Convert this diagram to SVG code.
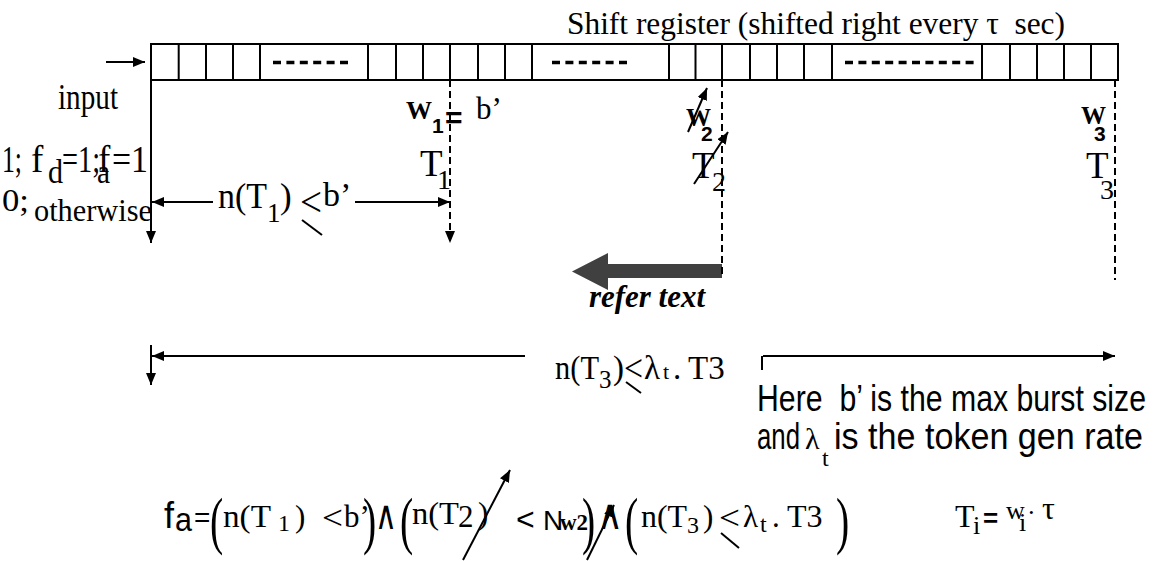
<svg xmlns="http://www.w3.org/2000/svg" width="1157" height="561" viewBox="0 0 1157 561">
<style>
.s{font-family:"Liberation Serif","Times New Roman",serif;fill:#000}
.a{font-family:"Liberation Sans",Arial,sans-serif;fill:#000}
.dj{font-family:"DejaVu Sans",sans-serif;fill:#000}
.ln{stroke:#000;stroke-width:2;fill:none}
.dl{stroke:#000;stroke-width:2;fill:none;stroke-dasharray:7 4}
.dots{stroke:#000;stroke-width:3.5;stroke-dasharray:8 5.4;fill:none}
.pre{white-space:pre}
</style>
<defs>
<marker id="ah" viewBox="0 0 12 10" refX="12" refY="5" markerWidth="12" markerHeight="10" markerUnits="userSpaceOnUse" orient="auto">
<path d="M0,0 L12,5 L0,10 Z" fill="#000"/>
</marker>
</defs>
<rect width="1157" height="561" fill="#fff"/>

<g id="title">
<text class="s pre" xml:space="preserve" x="567" y="34" font-size="31" textLength="498" lengthAdjust="spacingAndGlyphs">Shift register (shifted right every τ  sec)</text>
</g>

<g id="register">
<rect x="151" y="44" width="967" height="36" class="ln"/>
<path class="ln" d="M178.7,44V80M206,44V80M233,44V80M260,44V80M368,44V80M396,44V80M423,44V80M450,44V80M478,44V80M505,44V80M532,44V80M669,44V80M695.5,44V80M722,44V80M750,44V80M777,44V80M804,44V80M832,44V80M982,44V80M1010,44V80M1037,44V80M1064,44V80M1091,44V80"/>
<path class="dots" d="M273,62.5H348M552,62.5H627M845,62.5H976"/>
</g>

<g id="input">
<text class="s" x="58" y="109" font-size="35" textLength="60" lengthAdjust="spacingAndGlyphs">input</text>
</g>

<g id="cond">
<text class="s" x="2" y="172" font-size="37" textLength="20" lengthAdjust="spacingAndGlyphs">1;</text>
<text class="s" x="31" y="172" font-size="37">f</text>
<text class="s" x="48" y="183" font-size="33" textLength="15" lengthAdjust="spacingAndGlyphs">d</text>
<text class="s" x="62" y="172" font-size="37" textLength="38" lengthAdjust="spacingAndGlyphs">=1;</text>
<text class="s" x="98" y="172" font-size="37">f</text>
<text class="s" x="97" y="183" font-size="33" textLength="13" lengthAdjust="spacingAndGlyphs">a</text>
<text class="s" x="112" y="172" font-size="37" textLength="36" lengthAdjust="spacingAndGlyphs">=1</text>
<text class="s" x="2" y="211" font-size="31" textLength="27" lengthAdjust="spacingAndGlyphs">0;</text>
<text class="s" x="34" y="221" font-size="32" textLength="118" lengthAdjust="spacingAndGlyphs">otherwise</text>
</g>

<g id="w1">
<text class="s" x="406" y="119" font-size="26" font-weight="bold" textLength="26" lengthAdjust="spacingAndGlyphs">W</text>
<text class="a" x="432" y="133" font-size="21" font-weight="bold">1</text>
<text class="a" x="445" y="128" font-size="30" font-weight="bold">=</text>
<text class="s" x="476" y="119" font-size="31">b’</text>
<text class="s" x="420" y="176" font-size="37">T</text>
<text class="s" x="437" y="189" font-size="28">1</text>
</g>

<g id="w2">
<text class="s" x="686" y="126" font-size="26" font-weight="bold" textLength="25" lengthAdjust="spacingAndGlyphs">W</text>
<text class="a" x="701" y="141" font-size="21" font-weight="bold">2</text>
<text class="s" x="692" y="178" font-size="37">T</text>
<text class="s" x="712" y="191" font-size="28">2</text>
</g>

<g id="w3">
<text class="s" x="1081" y="124" font-size="26" font-weight="bold" textLength="25" lengthAdjust="spacingAndGlyphs">W</text>
<text class="a" x="1094" y="141" font-size="21" font-weight="bold">3</text>
<text class="s" x="1086" y="178" font-size="37">T</text>
<text class="s" x="1100" y="199" font-size="28">3</text>
</g>

<g id="refer">
<polygon points="722,264 608,264 608,253 572,271.5 608,290 608,278 722,278" fill="#404040"/>
<text class="s" x="589" y="307" font-size="31" font-weight="bold" font-style="italic" textLength="116" lengthAdjust="spacingAndGlyphs">refer text</text>
</g>

<g id="n1">
<text class="s" x="218" y="208" font-size="35" textLength="49" lengthAdjust="spacingAndGlyphs">n(T</text>
<text class="s" x="267" y="222" font-size="27">1</text>
<text class="s" x="280" y="208" font-size="35">)</text>
<text class="s" x="300" y="216" font-size="42" textLength="22" lengthAdjust="spacingAndGlyphs">&lt;</text>
<text class="s" x="323" y="206" font-size="34">b’</text>
</g>

<g id="n3">
<text class="s" x="555" y="379" font-size="33" textLength="44" lengthAdjust="spacingAndGlyphs">n(T</text>
<text class="s" x="599" y="388" font-size="25">3</text>
<text class="s" x="613" y="379" font-size="33">)</text>
<text class="s" x="624" y="381" font-size="38" textLength="19" lengthAdjust="spacingAndGlyphs">&lt;</text>
<text class="s" x="644" y="379" font-size="33">λ</text>
<text class="s" x="663" y="379" font-size="22">t</text>
<text class="s" x="673" y="379" font-size="33">.</text>
<text class="s" x="688" y="379" font-size="33">T3</text>
</g>

<g id="note">
<text class="a pre" xml:space="preserve" transform="translate(757,411) scale(1,1.2)" x="0" y="0" font-size="30" textLength="389" lengthAdjust="spacingAndGlyphs">Here  b’ is the max burst size</text>
<text class="a" transform="translate(757,449) scale(1,1.2)" x="0" y="0" font-size="30" textLength="43" lengthAdjust="spacingAndGlyphs">and</text>
<text class="s" x="805" y="449" font-size="30">λ</text>
<text class="s" x="822" y="466" font-size="24">t</text>
<text class="a" transform="translate(834,449) scale(1,1.2)" x="0" y="0" font-size="30" textLength="309" lengthAdjust="spacingAndGlyphs">is the token gen rate</text>
</g>

<g id="formula">
<text class="a" x="164" y="528" font-size="36">f</text>
<text class="a" x="175" y="531" font-size="34" textLength="17" lengthAdjust="spacingAndGlyphs">a</text>
<text class="a" x="194" y="527" font-size="28">=</text>
<text class="s" transform="translate(210,542) scale(0.62,1)" font-size="64">(</text>
<text class="s" x="223" y="527" font-size="31" textLength="48" lengthAdjust="spacingAndGlyphs">n(T</text>
<text class="s" x="278" y="531" font-size="24">1</text>
<text class="s" x="295" y="527" font-size="31">)</text>
<text class="s" x="322" y="529" font-size="34" textLength="21" lengthAdjust="spacingAndGlyphs">&lt;</text>
<text class="s" x="344" y="527" font-size="31">b’</text>
<text class="s" transform="translate(363,542) scale(0.62,1)" font-size="64">)</text>
<text class="dj" x="375" y="529" font-size="40" textLength="22" lengthAdjust="spacingAndGlyphs">∧</text>
<text class="s" transform="translate(400,542) scale(0.62,1)" font-size="64">(</text>
<text class="s" x="412" y="524" font-size="31" textLength="47" lengthAdjust="spacingAndGlyphs">n(T</text>
<text class="s" x="458" y="527" font-size="31">2</text>
<text class="s" x="478" y="524" font-size="31">)</text>
<text class="a" x="516" y="530" font-size="32">&lt;</text>
<text class="a" x="543" y="530" font-size="28">N</text>
<text class="s" x="560" y="530" font-size="23" font-weight="bold">w2</text>
<text class="s" transform="translate(582,542) scale(0.62,1)" font-size="64">)</text>
<text class="dj" x="597" y="529" font-size="42" textLength="26" lengthAdjust="spacingAndGlyphs">∧</text>
<text class="s" transform="translate(625,542) scale(0.62,1)" font-size="64">(</text>
<text class="s" x="641" y="527" font-size="31" textLength="46" lengthAdjust="spacingAndGlyphs">n(T</text>
<text class="s" x="687" y="533" font-size="24">3</text>
<text class="s" x="703" y="527" font-size="31">)</text>
<text class="s" x="719" y="529" font-size="34" textLength="21" lengthAdjust="spacingAndGlyphs">&lt;</text>
<text class="s" x="743" y="527" font-size="31">λ</text>
<text class="s" x="760" y="532" font-size="24">t</text>
<text class="s" x="772" y="527" font-size="31">.</text>
<text class="s" x="787" y="527" font-size="32">T3</text>
<text class="s" transform="translate(836,542) scale(0.62,1)" font-size="64">)</text>
</g>

<g id="ti">
<text class="s" x="955" y="527" font-size="32">T</text>
<text class="s" x="973" y="534" font-size="26">i</text>
<text class="a" x="983" y="527" font-size="26" font-weight="bold">=</text>
<text class="s" x="1006" y="519" font-size="26">w</text>
<text class="s" x="1019" y="531" font-size="26">i</text>
<text class="s" x="1027" y="521" font-size="26">·</text>
<text class="s" x="1042" y="519" font-size="32">τ</text>
</g>

<g id="connectors">
<line class="ln" x1="106" y1="62" x2="145" y2="62" marker-end="url(#ah)"/>
<line class="ln" x1="151" y1="80" x2="151" y2="243" marker-end="url(#ah)"/>
<line class="dl" x1="450" y1="80" x2="450" y2="243" marker-end="url(#ah)"/>
<line class="dl" x1="722" y1="80" x2="722" y2="278"/>
<line class="dl" x1="1115" y1="80" x2="1115" y2="280"/>
<line class="ln" x1="213" y1="202" x2="152" y2="202" marker-end="url(#ah)"/>
<line class="ln" x1="355" y1="202" x2="450" y2="202" marker-end="url(#ah)"/>
<line class="ln" x1="302" y1="220" x2="322" y2="235"/>
<line class="ln" x1="151" y1="345" x2="151" y2="385" marker-end="url(#ah)"/>
<line class="ln" x1="525" y1="356" x2="152" y2="356" marker-end="url(#ah)"/>
<line class="ln" x1="763" y1="356" x2="1115" y2="356" marker-end="url(#ah)"/>
<line class="ln" x1="762" y1="356" x2="762" y2="370"/>
<line class="ln" x1="626" y1="382" x2="641" y2="393"/>
<line class="ln" x1="688" y1="132" x2="707" y2="88" marker-end="url(#ah)"/>
<line class="ln" x1="694" y1="184" x2="728" y2="132" marker-end="url(#ah)"/>
<line class="ln" x1="463" y1="560" x2="510" y2="470" marker-end="url(#ah)"/>
<line class="ln" x1="587" y1="560" x2="614" y2="505" marker-end="url(#ah)"/>
<line class="ln" x1="721" y1="533" x2="739" y2="548"/>
</g>
</svg>
